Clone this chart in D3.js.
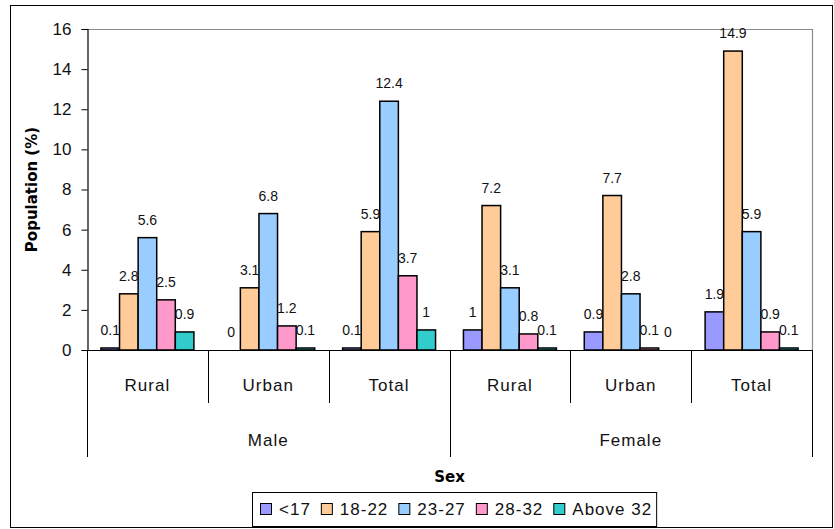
<!DOCTYPE html>
<html>
<head>
<meta charset="utf-8">
<script src="https://cdn.jsdelivr.net/npm/d3@7/dist/d3.min.js"></script>
<style>
  html, body { margin: 0; padding: 0; background: #fff; }
  svg { display: block; }
</style>
</head>
<body>
<svg id="chart" width="834" height="529"></svg>
<script>
// Age-group share of population by sex and residence
const sexes = ["Male", "Female"];
const places = ["Rural", "Urban", "Total"];
const ageGroups = ["<17", "18-22", "23-27", "28-32", "Above 32"];
const colors = ["#9999FF", "#FFCC99", "#99CCFF", "#FF99CC", "#33CCCC"];

const maleRural   = [0.1, 2.8, 5.6, 2.5, 0.9];
const maleUrban   = [0, 3.1, 6.8, 1.2, 0.1];
const maleTotal   = [0.1, 5.9, 12.4, 3.7, 1];
const femaleRural = [1, 7.2, 3.1, 0.8, 0.1];
const femaleUrban = [0.9, 7.7, 2.8, 0.1, 0];
const femaleTotal = [1.9, 14.9, 5.9, 0.9, 0.1];

const yTicks = [0, 2, 4, 6, 8, 10, 12, 14, 16];

const groups = [
  { sex: "Male", place: "Rural", values: maleRural },
  { sex: "Male", place: "Urban", values: maleUrban },
  { sex: "Male", place: "Total", values: maleTotal },
  { sex: "Female", place: "Rural", values: femaleRural },
  { sex: "Female", place: "Urban", values: femaleUrban },
  { sex: "Female", place: "Total", values: femaleTotal }
];

const svg = d3.select("#chart");
const plot = { left: 87, right: 812, top: 29, bottom: 350 };

// outer frame
svg.append("rect")
  .attr("x", 10.5).attr("y", 5.5)
  .attr("width", 822).attr("height", 522)
  .attr("fill", "#fff").attr("stroke", "#000").attr("stroke-width", 1);

const x0 = d3.scaleBand()
  .domain(groups.map((g, i) => i))
  .range([plot.left, plot.right])
  .padding(0);

const x1 = d3.scaleBand()
  .domain(ageGroups)
  .range([0, x0.bandwidth()])
  .paddingInner(0)
  .paddingOuter(0.75);

const y = d3.scaleLinear().domain([0, 16]).range([plot.bottom, plot.top]);

// plot area border (top and right in grey)
svg.append("path")
  .attr("d", `M${plot.left},${plot.top + 0.5}H${plot.right + 0.5}V${plot.bottom}`)
  .attr("fill", "none").attr("stroke", "#8c8c8c").attr("stroke-width", 1.2);

// y axis
const yAxis = d3.axisLeft(y).tickValues(yTicks).tickSize(6).tickPadding(10).tickFormat(d3.format("d"));
const yg = svg.append("g").attr("transform", `translate(${plot.left + 0.5},0)`).call(yAxis);
yg.select(".domain").attr("stroke", "#000").attr("stroke-width", 1.2);
yg.selectAll(".tick line").attr("stroke", "#000");
yg.selectAll(".tick text")
  .attr("font-family", "'Liberation Sans', Arial, sans-serif")
  .attr("font-size", 17).attr("fill", "#111");

svg.append("text")
  .attr("transform", `translate(37,${(plot.top + plot.bottom) / 2}) rotate(-90)`)
  .attr("text-anchor", "middle")
  .attr("font-family", "'DejaVu Sans', Verdana, sans-serif")
  .attr("font-weight", "bold").attr("font-size", 15)
  .text("Population (%)");

// bars
const gGroups = svg.selectAll("g.grp").data(groups).enter().append("g")
  .attr("class", "grp")
  .attr("transform", (d, i) => `translate(${x0(i)},0)`);

gGroups.selectAll("rect").data(d => d.values.map((v, k) => ({ v, k })))
  .enter().append("rect")
  .attr("x", d => x1(ageGroups[d.k]))
  .attr("y", d => y(d.v))
  .attr("width", x1.bandwidth())
  .attr("height", d => y(0) - y(d.v))
  .attr("fill", d => colors[d.k])
  .attr("stroke", "#000").attr("stroke-width", 1.5);

gGroups.selectAll("text.val").data(d => d.values.map((v, k) => ({ v, k })))
  .enter().append("text")
  .attr("class", "val")
  .attr("x", d => x1(ageGroups[d.k]) + x1.bandwidth() / 2)
  .attr("y", d => y(d.v) - 13)
  .attr("text-anchor", "middle")
  .attr("font-family", "'Liberation Sans', Arial, sans-serif")
  .attr("font-size", 14).attr("fill", "#111")
  .text(d => d.v);

// category axis baseline
svg.append("line")
  .attr("x1", plot.left).attr("x2", plot.right + 0.5)
  .attr("y1", plot.bottom + 0.5).attr("y2", plot.bottom + 0.5)
  .attr("stroke", "#000").attr("stroke-width", 1.2);

// dividers between residence categories and between sexes
const nPlaces = places.length;
for (let i = 0; i <= groups.length; i++) {
  const xx = i < groups.length ? x0(i) : plot.right;
  const outer = i % nPlaces === 0;
  svg.append("line")
    .attr("x1", Math.round(xx) + 0.5).attr("x2", Math.round(xx) + 0.5)
    .attr("y1", plot.bottom).attr("y2", outer ? 457 : 403)
    .attr("stroke", "#000").attr("stroke-width", 1);
}

// residence labels
svg.selectAll("text.place").data(groups).enter().append("text")
  .attr("class", "place")
  .attr("x", (d, i) => x0(i) + x0.bandwidth() / 2)
  .attr("y", 391)
  .attr("text-anchor", "middle")
  .attr("font-family", "'Liberation Sans', Arial, sans-serif")
  .attr("font-size", 17).attr("letter-spacing", 1).attr("fill", "#111")
  .text(d => d.place);

// sex labels
svg.selectAll("text.sex").data(sexes).enter().append("text")
  .attr("class", "sex")
  .attr("x", (d, i) => x0(i * nPlaces) + x0.bandwidth() * nPlaces / 2)
  .attr("y", 446)
  .attr("text-anchor", "middle")
  .attr("font-family", "'Liberation Sans', Arial, sans-serif")
  .attr("font-size", 17).attr("letter-spacing", 1).attr("fill", "#111")
  .text(d => d);

svg.append("text")
  .attr("x", (plot.left + plot.right) / 2).attr("y", 482)
  .attr("text-anchor", "middle")
  .attr("font-family", "'DejaVu Sans', Verdana, sans-serif")
  .attr("font-weight", "bold").attr("font-size", 15)
  .text("Sex");

// legend
const legend = svg.append("g");
const legendBox = legend.append("rect")
  .attr("fill", "#fff").attr("stroke", "#000").attr("stroke-width", 1);
let cx = 260;
const ly = 509;
ageGroups.forEach((name, k) => {
  legend.append("rect")
    .attr("x", cx + 0.5).attr("y", ly - 5.5)
    .attr("width", 11).attr("height", 11)
    .attr("fill", colors[k]).attr("stroke", "#000").attr("stroke-width", 1);
  const t = legend.append("text")
    .attr("x", cx + 19).attr("y", ly + 6)
    .attr("font-family", "'Liberation Sans', Arial, sans-serif")
    .attr("font-size", 17).attr("letter-spacing", 1).attr("fill", "#111")
    .text(name);
  cx += 19 + t.node().getComputedTextLength() + 10;
});
legendBox.attr("x", 252.5).attr("y", 492.5)
  .attr("width", cx - 252 - 6).attr("height", 34);
</script>
</body>
</html>
